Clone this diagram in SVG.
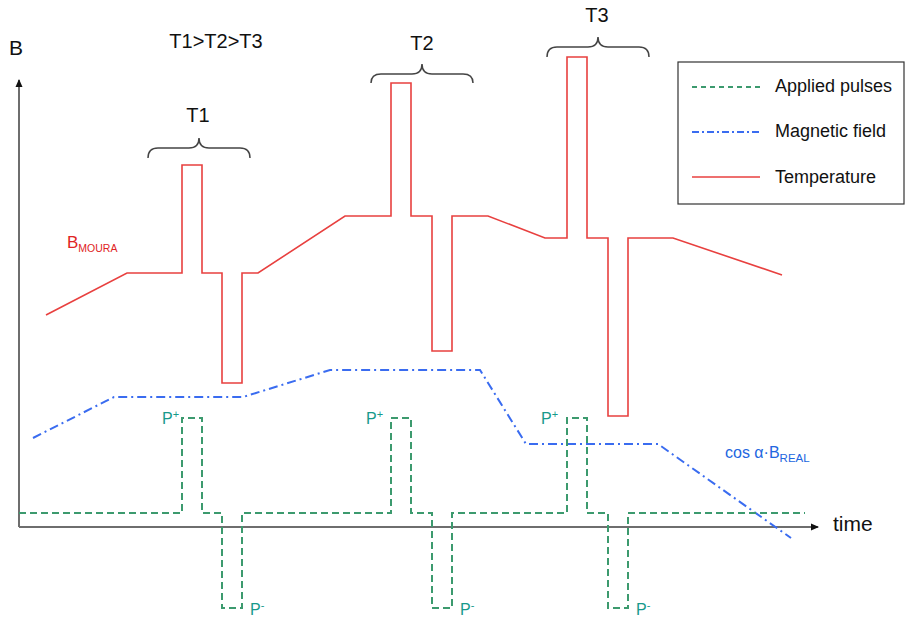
<svg xmlns="http://www.w3.org/2000/svg" width="906" height="618" viewBox="0 0 906 618">
<defs>
<marker id="arr" markerWidth="8" markerHeight="8" refX="7" refY="4" orient="auto" markerUnits="userSpaceOnUse">
<path d="M0,0.5 L8,4 L0,7.5 Z" fill="#111"/>
</marker>
<style>
.t{font-family:"Liberation Sans",Arial,sans-serif;fill:#111}
.temp{fill:none;stroke:#e8403f;stroke-width:1.6}
.mag{fill:none;stroke:#3a6cf0;stroke-width:2;stroke-dasharray:9,4,2,4}
.pul{fill:none;stroke:#3c9a6e;stroke-width:2;stroke-dasharray:7,4}
.brace{fill:none;stroke:#444;stroke-width:1.5}
.axis{fill:none;stroke:#6e6e6e;stroke-width:2}
.pl{font-family:"Liberation Sans",Arial,sans-serif;fill:#179a8c;font-size:16px}
</style>
</defs>
<rect width="906" height="618" fill="#fff"/>

<g id="axes">
<line class="axis" x1="19" y1="527" x2="19" y2="80" marker-end="url(#arr)"/>
<line class="axis" x1="19" y1="527" x2="818" y2="527" marker-end="url(#arr)"/>
<text class="t" x="9" y="55" font-size="21">B</text>
<text class="t" x="833" y="531" font-size="21">time</text>
</g>

<g id="titles">
<text class="t" x="216" y="48" font-size="20" text-anchor="middle">T1&gt;T2&gt;T3</text>
<text class="t" x="198" y="122" font-size="20" text-anchor="middle">T1</text>
<text class="t" x="422" y="50" font-size="20" text-anchor="middle">T2</text>
<text class="t" x="597" y="22" font-size="20" text-anchor="middle">T3</text>
</g>

<g id="braces">
<path class="brace" d="M148,158 Q148,148 158,148 L189,148 Q199,148 199,138 Q199,148 209,148 L240,148 Q250,148 250,158"/>
<path class="brace" d="M371,83 Q371,74 381,74 L412,74 Q422,74 422,64 Q422,74 432,74 L463,74 Q473,74 473,83"/>
<path class="brace" d="M547,57 Q547,47 557,47 L588,47 Q598,47 598,37 Q598,47 608,47 L639,47 Q649,47 649,57"/>
</g>

<g id="connectors">
<path id="temperature" class="temp" d="M46,315 L127,273 L182,273 L182,165 L202,165 L202,273 L222,273 L222,383 L242,383 L242,273 L258,273 L345,216 L391,216 L391,83 L411,83 L411,216 L432,216 L432,351 L452,351 L452,216 L488,216 L545,238 L567,238 L567,57 L587,57 L587,238 L608,238 L608,416 L628,416 L628,238 L673,238 L782,275"/>
<path id="magnetic" class="mag" d="M33,438 L114,397 L243,397 L330,370 L480,370 L526,444 L658,444 L791,538"/>
<path id="pulses" class="pul" d="M19,513 L182,513 L182,418 L202,418 L202,513 L222,513 L222,608 L242,608 L242,513 L391,513 L391,418 L411,418 L411,513 L432,513 L432,608 L452,608 L452,513 L567,513 L567,418 L587,418 L587,513 L608,513 L608,608 L628,608 L628,513 L805,513"/>
</g>

<g id="labels">
<text x="67" y="248" font-family="Liberation Sans,Arial,sans-serif" font-size="17" fill="#e02424">B<tspan font-size="10.5" dy="4">MOURA</tspan></text>
<text x="725" y="458" font-family="Liberation Sans,Arial,sans-serif" font-size="16" fill="#2266e0">cos α·B<tspan font-size="11.5" dy="4">REAL</tspan></text>
<text class="pl" x="162" y="424">P<tspan font-size="11" dy="-6">+</tspan></text>
<text class="pl" x="366" y="424">P<tspan font-size="11" dy="-6">+</tspan></text>
<text class="pl" x="541" y="424">P<tspan font-size="11" dy="-6">+</tspan></text>
<text class="pl" x="250" y="615">P<tspan font-size="11" dy="-6">-</tspan></text>
<text class="pl" x="460" y="615">P<tspan font-size="11" dy="-6">-</tspan></text>
<text class="pl" x="636" y="615">P<tspan font-size="11" dy="-6">-</tspan></text>
</g>

<g id="legend">
<rect x="678" y="62" width="226" height="142" fill="#fff" stroke="#333" stroke-width="1.2"/>
<line class="pul" x1="692" y1="87" x2="760" y2="87" style="stroke-dasharray:5,4"/>
<line class="mag" x1="692" y1="132" x2="760" y2="132" style="stroke-dasharray:7,3,2,3"/>
<line class="temp" x1="692" y1="177" x2="760" y2="177"/>
<text class="t" x="775" y="92" font-size="18">Applied pulses</text>
<text class="t" x="775" y="137" font-size="18">Magnetic field</text>
<text class="t" x="775" y="183" font-size="18">Temperature</text>
</g>
</svg>
